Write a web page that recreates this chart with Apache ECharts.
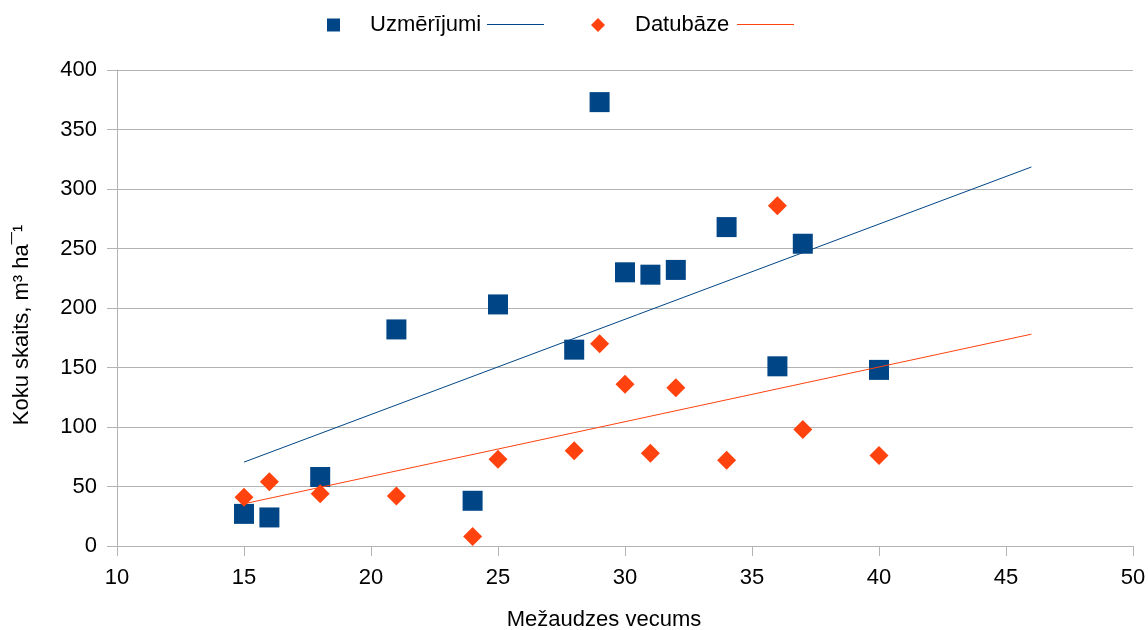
<!DOCTYPE html>
<html>
<head>
<meta charset="utf-8">
<script src="https://cdn.jsdelivr.net/npm/echarts@6/dist/echarts.min.js"></script>
<style>
  html, body { margin: 0; padding: 0; background: #fff; }
  #chart { width: 1148px; height: 630px; }
</style>
</head>
<body>
<div id="chart"></div>
<script>
// Stand age (years) of each sampled stand
const ages = [15, 16, 18, 21, 24, 25, 28, 29, 30, 31, 32, 34, 36, 37, 40];
// Measured stock, m³/ha
const measured = [27, 24, 58, 182, 38, 203, 165, 373, 230, 228, 232, 268, 151, 254, 148];
// Stock recorded in the database, m³/ha
const database = [41, 54, 44, 42, 8, 73, 80, 170, 136, 78, 133, 72, 286, 98, 76];
// Linear trend lines (end points)
const trendAges = [15, 46];
const trendMeasured = [70.5, 318.5];
const trendDatabase = [35.5, 178];

const xTicks = { min: 10, max: 50, interval: 5 };
const yTicks = { min: 0, max: 400, interval: 50 };

const BLUE = '#004586';
const ORANGE = '#ff420e';
const GRID = '#b3b3b3';
const FONT = 'Liberation Sans, Arial, sans-serif';
const FS = 22;

const pairs = (xs, ys) => xs.map((x, i) => [x, ys[i]]);

const NAME_M = 'Uzmērījumi';
const NAME_D = 'Datubāze';
const TREND_M = 'Uzmērījumi (trends)';
const TREND_D = 'Datubāze (trends)';

const legendBase = {
  top: 14,
  padding: 0,
  selectedMode: false,
  textStyle: { fontFamily: FONT, fontSize: FS, color: '#000' }
};

const chart = echarts.init(document.getElementById('chart'), null, { renderer: 'canvas' });
chart.setOption({
  animation: false,
  backgroundColor: '#fff',
  textStyle: { fontFamily: FONT },
  grid: { left: 117, right: 15, top: 70, bottom: 84, containLabel: false, outerBoundsMode: 'none' },
  legend: [
    Object.assign({}, legendBase, {
      left: 327, data: [{ name: NAME_M, icon: 'rect' }], itemWidth: 13, itemHeight: 13,
      textStyle: Object.assign({}, legendBase.textStyle, { padding: [0, 0, 0, 25] })
    }),
    Object.assign({}, legendBase, {
      left: 487, top: 24, data: [{ name: TREND_M, icon: 'rect' }], itemWidth: 57, itemHeight: 1, formatter: () => ''
    }),
    Object.assign({}, legendBase, {
      left: 591, data: [{ name: NAME_D, icon: 'diamond' }], itemWidth: 14, itemHeight: 14,
      textStyle: Object.assign({}, legendBase.textStyle, { padding: [0, 0, 0, 25] })
    }),
    Object.assign({}, legendBase, {
      left: 737, top: 24, data: [{ name: TREND_D, icon: 'rect' }], itemWidth: 57, itemHeight: 1, formatter: () => ''
    })
  ],
  xAxis: {
    type: 'value',
    min: xTicks.min, max: xTicks.max, interval: xTicks.interval,
    name: 'Mežaudzes vecums',
    nameLocation: 'middle',
    nameGap: 63,
    nameTextStyle: { fontFamily: FONT, fontSize: FS, color: '#000', padding: [0, 42, 0, 0] },
    axisLine: { show: true, lineStyle: { color: GRID, width: 1 } },
    axisTick: { show: true, length: 10, lineStyle: { color: GRID } },
    axisLabel: { margin: 21, fontFamily: FONT, fontSize: FS, color: '#000' },
    splitLine: { show: false }
  },
  yAxis: {
    type: 'value',
    min: yTicks.min, max: yTicks.max, interval: yTicks.interval,
    name: 'Koku skaits, m³ ha¯¹',
    nameLocation: 'middle',
    nameGap: 84,
    nameTextStyle: { fontFamily: FONT, fontSize: FS, color: '#000', padding: [0, 34, 0, 0] },
    axisLine: { show: true, lineStyle: { color: GRID, width: 1 } },
    axisTick: { show: true, length: 10, lineStyle: { color: GRID } },
    axisLabel: { margin: 20, fontFamily: FONT, fontSize: FS, color: '#000' },
    splitLine: { show: true, lineStyle: { color: GRID, width: 1 } }
  },
  series: [
    {
      name: NAME_M, type: 'scatter', symbol: 'rect', symbolSize: 20,
      itemStyle: { color: BLUE, opacity: 1 },
      data: pairs(ages, measured), z: 2
    },
    {
      name: TREND_M, type: 'line', symbol: 'none', showSymbol: false,
      lineStyle: { color: BLUE, width: 1 }, itemStyle: { color: BLUE },
      data: pairs(trendAges, trendMeasured), z: 3
    },
    {
      name: NAME_D, type: 'scatter', symbol: 'diamond', symbolSize: 19,
      itemStyle: { color: ORANGE, opacity: 1 },
      data: pairs(ages, database), z: 4
    },
    {
      name: TREND_D, type: 'line', symbol: 'none', showSymbol: false,
      lineStyle: { color: ORANGE, width: 1 }, itemStyle: { color: ORANGE },
      data: pairs(trendAges, trendDatabase), z: 5
    }
  ]
});
</script>
</body>
</html>
